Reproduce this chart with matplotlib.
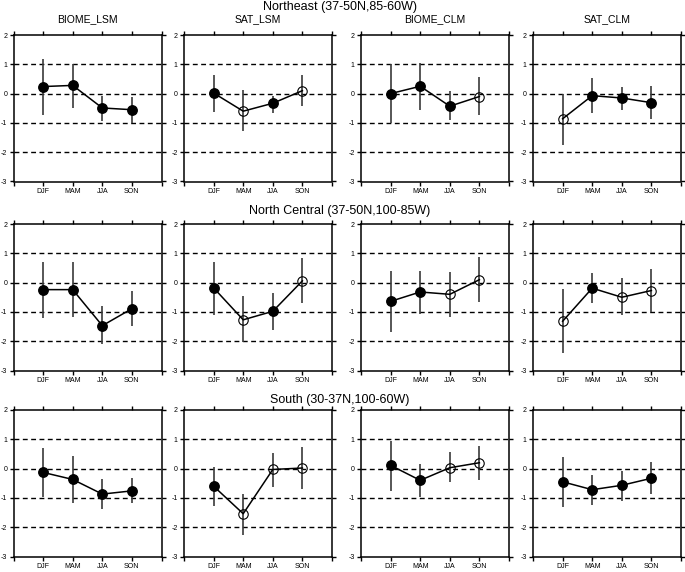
import numpy as np
import matplotlib.pyplot as plt

plt.rcParams['font.family'] = ['Liberation Sans', 'DejaVu Sans']
plt.rcParams['axes.unicode_minus'] = False

seasons = ['DJF', 'MAM', 'JJA', 'SON']
models = ['BIOME_LSM', 'SAT_LSM', 'BIOME_CLM', 'SAT_CLM']
regions = ['Northeast (37-50N,85-60W)',
           'North Central (37-50N,100-85W)',
           'South (30-37N,100-60W)']

# Northeast: rows = models, cols = seasons
ne_mean = [[0.24, 0.28, -0.49, -0.55],
           [0.02, -0.60, -0.33, 0.10],
           [0.00, 0.25, -0.43, -0.10],
           [-0.86, -0.07, -0.15, -0.31]]
ne_lo = [[-0.72, -0.50, -0.92, -1.02],
         [-0.63, -1.29, -0.66, -0.42],
         [-1.00, -0.56, -0.90, -0.74],
         [-1.74, -0.67, -0.55, -0.88]]
ne_hi = [[1.17, 1.02, -0.07, -0.10],
         [0.64, 0.12, -0.07, 0.63],
         [1.00, 1.05, 0.08, 0.56],
         [0.00, 0.52, 0.24, 0.27]]
ne_sig = [[1, 1, 1, 1],
          [1, 0, 1, 0],
          [1, 1, 1, 0],
          [0, 1, 1, 1]]

# North Central
nc_mean = [[-0.24, -0.24, -1.47, -0.89],
           [-0.18, -1.27, -0.98, 0.06],
           [-0.64, -0.32, -0.40, 0.10],
           [-1.32, -0.19, -0.50, -0.27]]
nc_lo = [[-1.21, -1.19, -2.09, -1.49],
         [-1.10, -2.04, -1.62, -0.68],
         [-1.68, -1.06, -1.17, -0.65],
         [-2.39, -0.71, -1.11, -0.99]]
nc_hi = [[0.72, 0.70, -0.81, -0.30],
         [0.72, -0.46, -0.35, 0.84],
         [0.41, 0.41, 0.37, 0.86],
         [-0.22, 0.34, 0.15, 0.45]]
nc_sig = [[1, 1, 1, 1],
          [1, 0, 1, 0],
          [1, 1, 0, 0],
          [0, 1, 0, 0]]

# South
so_mean = [[-0.13, -0.37, -0.87, -0.76],
           [-0.60, -1.54, -0.03, 0.02],
           [0.11, -0.40, 0.03, 0.20],
           [-0.45, -0.72, -0.57, -0.33]]
so_lo = [[-0.96, -1.17, -1.38, -1.19],
         [-1.27, -2.25, -0.63, -0.69],
         [-0.75, -0.97, -0.46, -0.38],
         [-1.32, -1.23, -1.09, -0.86]]
so_hi = [[0.70, 0.44, -0.37, -0.32],
         [0.07, -0.85, 0.53, 0.73],
         [0.94, 0.17, 0.55, 0.77],
         [0.41, -0.22, -0.07, 0.22]]
so_sig = [[1, 1, 1, 1],
          [1, 0, 0, 0],
          [1, 1, 0, 0],
          [1, 1, 1, 1]]

all_mean = [ne_mean, nc_mean, so_mean]
all_lo = [ne_lo, nc_lo, so_lo]
all_hi = [ne_hi, nc_hi, so_hi]
all_sig = [ne_sig, nc_sig, so_sig]

W, H = 685, 572
fig = plt.figure(figsize=(W / 100, H / 100), dpi=100)

col_left = [13.5, 184, 361, 533]   # pixels
row_top = [35, 224, 410]
pw, ph = 148, 146.5

x = np.arange(1, len(seasons) + 1)
yticks = [2, 1, 0, -1, -2, -3]

for r in range(3):
    for c in range(4):
        ax = fig.add_axes([col_left[c] / W, 1 - (row_top[r] + ph) / H, pw / W, ph / H])
        mean = np.array(all_mean[r][c])
        lo = np.array(all_lo[r][c])
        hi = np.array(all_hi[r][c])
        sig = np.array(all_sig[r][c], dtype=bool)

        for yl in [1, 0, -1, -2]:
            ax.axhline(yl, color='black', lw=1.0, ls=(0, (3.5, 2.5)), zorder=1)
        ax.vlines(x, lo, hi, color='#3a3a3a', lw=1.2, zorder=2)
        ax.plot(x, mean, color='black', lw=1.1, zorder=3)
        ax.plot(x[sig], mean[sig], 'o', color='black', ms=6.8, zorder=4)
        ax.plot(x[~sig], mean[~sig], 'o', mfc='none', mec='black', mew=0.8,
                ms=6.8, zorder=4)

        ax.set_xlim(0, 5)
        ax.set_ylim(-3, 2)
        ax.set_xticks(np.arange(0, 6))
        ax.set_xticklabels([''] + seasons + [''])
        ax.set_yticks(yticks)
        ax.set_yticklabels([str(v) for v in yticks])
        ax.tick_params(direction='out', length=3, width=1.0, labelsize=5,
                       pad=1.5, top=True, right=True)
        for s in ax.spines.values():
            s.set_linewidth(1.1)
        if r == 0:
            ax.set_title(models[c], fontsize=7.5, pad=9)

for r, name in enumerate(regions):
    ytxt = [7, 211, 400][r]
    fig.text(340 / W, 1 - ytxt / H, name, ha='center', va='center', fontsize=9)

fig.savefig('out.png', dpi=100)
